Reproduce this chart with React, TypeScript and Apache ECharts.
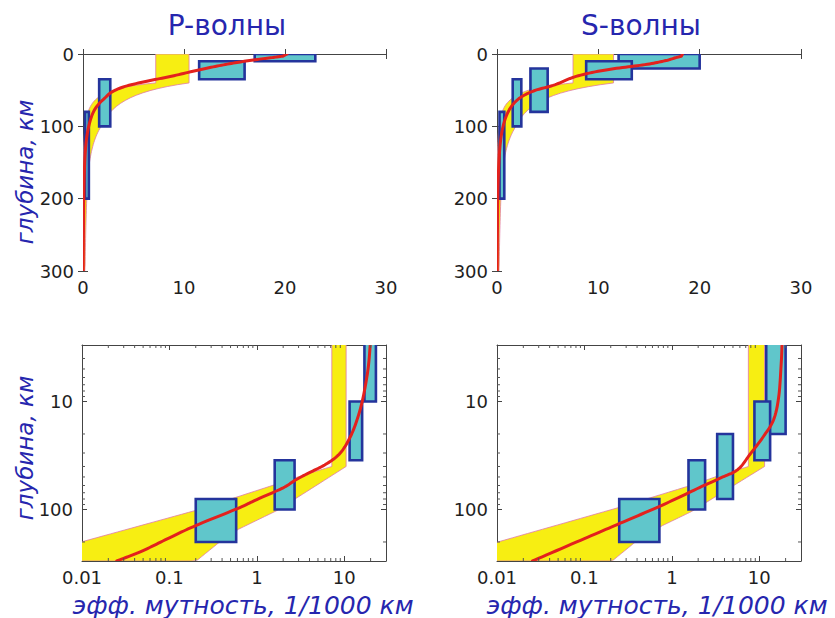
import React, { useEffect, useRef } from 'react';
import * as echarts from 'echarts';

// ---------- axis ticks ----------
const linXTicks = [0, 10, 20, 30];
const linDepthTicks = [0, 100, 200, 300];
const logXTicks = [0.01, 0.1, 1, 10];
const logDepthTicks = [10, 100];
const logXMinor = [0.02, 0.03, 0.04, 0.05, 0.06, 0.07, 0.08, 0.09, 0.2, 0.3, 0.4, 0.5, 0.6, 0.7, 0.8, 0.9, 2, 3, 4, 5, 6, 7, 8, 9, 20];
const logDepthMinor = [4, 5, 6, 7, 8, 9, 20, 30, 40, 50, 60, 70, 80, 90, 200];

// ---------- P waves ----------
// boxes: [turbidity min, turbidity max, depth top, depth bottom]
const pBoxes = [
  [17, 23, 0, 10],
  [11.5, 16, 10, 35],
  [1.6, 2.7, 35, 100],
  [0.2, 0.58, 80, 200],
];
// model curve: [turbidity, depth]
const pModel = [
  [20.2, 0], [19.8, 3], [18.7, 5], [16.5, 9], [14.3, 14], [11.8, 21], [9.0, 30],
  [6.2, 38], [3.7, 47], [2.7, 54], [2.0, 63], [1.0, 81], [0.6, 98], [0.2, 141],
  [0.1, 183], [0.05, 240], [0.025, 300],
];
// uncertainty band edges: [turbidity, depth]
const pBandLeft = [[7.2, 0], [7.2, 40], [3.7, 47], [1.6, 59], [0.2, 102], [0.01, 199], [0.0015, 300]];
const pBandRight = [[0.18, 300], [0.21, 293], [0.37, 202], [0.62, 152], [1.67, 103], [10.5, 40], [10.5, 0]];

// ---------- S waves ----------
const sBoxes = [
  [12, 20, 0, 20],
  [8.8, 13.3, 10, 35],
  [3.3, 5, 20, 80],
  [1.55, 2.4, 35, 100],
  [0.25, 0.72, 80, 200],
];
const sModel = [
  [18.3, 0], [18.2, 3], [17.8, 4.5], [16.7, 9], [14.6, 14.7], [11.2, 21], [7.8, 31],
  [5.7, 42.6], [3.67, 50.8], [2.07, 62.7], [0.78, 91], [0.257, 134], [0.1, 186], [0.0255, 300],
];
const sBandLeft = [[7.5, 0], [7.5, 40], [3.36, 49], [1.66, 59.7], [0.246, 96], [0.01, 201], [0.0015, 300]];
const sBandRight = [[0.2, 300], [0.215, 293], [0.38, 201], [0.78, 141], [1.66, 105], [11.5, 40], [11.5, 0]];

const titles = ['P-волны', 'S-волны'];
const depthName = 'глубина, км';
const turbName = 'эфф. мутность, 1/1000 км';

const FONT = 'DejaVu Sans';
const YELLOW = '#f7ee12';
const BAND_EDGE = '#e07aa8';
const BOX_FILL = '#60c6cb';
const BOX_EDGE = '#24349c';
const RED = '#e3211d';
const BLUE_TEXT = '#2626ae';

const grids = [
  { left: 83, top: 54, width: 303, height: 217 },
  { left: 497, top: 54, width: 304, height: 217 },
  { left: 82, top: 345, width: 304, height: 216 },
  { left: 497, top: 345, width: 304, height: 216 },
];

const logFmt = (v: number) => {
  const l = Math.log10(v);
  const e = Math.round(l);
  if (Math.abs(l - e) > 1e-6) return '';
  return e < 0 ? Math.pow(10, e).toFixed(-e) : String(Math.round(Math.pow(10, e)));
};

// Geometry helpers: band edges are straight segments in log-log space,
// so they are traced as such (curves on the linear panels).
const positive = (p: number[]) => p[0] > 0 && p[1] > 0;
function traceLogLog(pts: number[][], steps: number) {
  const out: number[][] = [];
  for (let k = 0; k < pts.length; k++) {
    const a = pts[k];
    out.push(a);
    if (k === pts.length - 1) break;
    const b = pts[k + 1];
    if (positive(a) && positive(b)) {
      const ax = Math.log10(a[0]), ay = Math.log10(a[1]);
      const bx = Math.log10(b[0]), by = Math.log10(b[1]);
      for (let s = 1; s < steps; s++) {
        const t = s / steps;
        out.push([Math.pow(10, ax + (bx - ax) * t), Math.pow(10, ay + (by - ay) * t)]);
      }
    }
  }
  return out;
}
// Smooth curve (Catmull-Rom in log-log space) through the model points.
function smoothLogLog(pts: number[][], steps: number) {
  const head = pts.filter((p) => !positive(p));
  const body = pts.filter(positive).map((p) => [Math.log10(p[0]), Math.log10(p[1])]);
  const out: number[][] = head.slice();
  for (let i = 0; i < body.length - 1; i++) {
    const p0 = body[i - 1] || body[i];
    const p1 = body[i];
    const p2 = body[i + 1];
    const p3 = body[i + 2] || p2;
    for (let s = 0; s < steps; s++) {
      const t = s / steps, t2 = t * t, t3 = t2 * t;
      const f = (a: number, b: number, c: number, d: number) =>
        0.5 * (2 * b + (-a + c) * t + (2 * a - 5 * b + 4 * c - d) * t2 + (-a + 3 * b - 3 * c + d) * t3);
      out.push([Math.pow(10, f(p0[0], p1[0], p2[0], p3[0])), Math.pow(10, f(p0[1], p1[1], p2[1], p3[1]))]);
    }
  }
  const last = body[body.length - 1];
  out.push([Math.pow(10, last[0]), Math.pow(10, last[1])]);
  return out;
}

function buildOption() {
  const xAxis: any[] = [];
  const yAxis: any[] = [];
  const series: any[] = [];
  const labelStyle = { fontFamily: FONT, fontSize: 18, color: '#1e1e1e' };
  const lineStyle = { color: '#444', width: 1 };
  const tick = { show: true, inside: true, length: 5, lineStyle: { color: '#444' } };

  grids.forEach((g, i) => {
    const isLog = i >= 2;
    const xBase: any = isLog
      ? { type: 'log', logBase: 10, min: logXTicks[0], max: 30 }
      : { type: 'value', min: linXTicks[0], max: linXTicks[linXTicks.length - 1], interval: 10 };
    const yBase: any = isLog
      ? { type: 'log', logBase: 10, min: 3, max: 300, inverse: true }
      : { type: 'value', min: linDepthTicks[0], max: linDepthTicks[linDepthTicks.length - 1], interval: 100, inverse: true };
    const fmt = isLog ? logFmt : (v: number) => String(v);
    xAxis.push({
      ...xBase, gridIndex: i, position: 'bottom',
      axisLine: { show: true, lineStyle }, axisTick: tick, splitLine: { show: false },
      axisLabel: { ...labelStyle, margin: 7, formatter: fmt, showMinLabel: true, showMaxLabel: true },
    });
    xAxis.push({
      ...xBase, gridIndex: i, position: 'top',
      axisLine: { show: true, lineStyle }, axisTick: tick, splitLine: { show: false },
      axisLabel: { show: false },
    });
    yAxis.push({
      ...yBase, gridIndex: i, position: 'left',
      axisLine: { show: true, lineStyle }, axisTick: tick, splitLine: { show: false },
      axisLabel: { ...labelStyle, margin: 9, formatter: fmt, showMinLabel: true, showMaxLabel: true },
    });
    yAxis.push({
      ...yBase, gridIndex: i, position: 'right',
      axisLine: { show: true, lineStyle }, axisTick: tick, splitLine: { show: false },
      axisLabel: { show: false },
    });

    const xi = i * 2;
    const yi = i * 2;
    const isS = i % 2 === 1;
    const boxes = isS ? sBoxes : pBoxes;
    const model = isS ? sModel : pModel;
    const band = [...(isS ? sBandLeft : pBandLeft), ...(isS ? sBandRight : pBandRight)];
    const cd = (d: number) => (isLog ? Math.max(d, 1) : d);

    // uncertainty band
    series.push({
      type: 'custom', xAxisIndex: xi, yAxisIndex: yi, clip: true, z: 1, silent: true,
      data: band.map(([x, d]) => [x, cd(d)]),
      encode: { x: 0, y: 1 },
      renderItem: (params: any, api: any) => {
        if (params.dataIndex !== 0) return null;
        const points = traceLogLog(band, 16).map(([x, d]) => api.coord([x, cd(d)]));
        return {
          type: 'polygon', shape: { points },
          style: { fill: YELLOW, stroke: BAND_EDGE, lineWidth: 0.8 },
        };
      },
    });

    // measurement boxes
    series.push({
      type: 'custom', xAxisIndex: xi, yAxisIndex: yi, clip: true, z: 2, silent: true,
      data: boxes.map(([a, b, c, d]) => [a, b, cd(c), cd(d)]),
      encode: { x: [0, 1], y: [2, 3] },
      renderItem: (params: any, api: any) => {
        const p0 = api.coord([api.value(0), api.value(2)]);
        const p1 = api.coord([api.value(1), api.value(3)]);
        const x = Math.min(p0[0], p1[0]);
        const y = Math.min(p0[1], p1[1]);
        return {
          type: 'rect',
          shape: { x, y, width: Math.abs(p1[0] - p0[0]), height: Math.abs(p1[1] - p0[1]) },
          style: { fill: BOX_FILL, stroke: BOX_EDGE, lineWidth: 2.6 },
        };
      },
    });

    // model curve
    const curvePts = model.filter(([, d]) => !isLog || d > 0);
    series.push({
      type: 'custom', xAxisIndex: xi, yAxisIndex: yi, clip: true, z: 3, silent: true,
      data: curvePts,
      encode: { x: 0, y: 1 },
      renderItem: (params: any, api: any) => {
        if (params.dataIndex !== 0) return null;
        const points = smoothLogLog(curvePts, 12).map(([x, d]) => api.coord([x, d]));
        return {
          type: 'polyline', shape: { points },
          style: { fill: 'none', stroke: RED, lineWidth: 3, lineJoin: 'round', lineCap: 'round' },
        };
      },
    });

    // minor log ticks
    if (isLog) {
      series.push({
        type: 'custom', xAxisIndex: xi, yAxisIndex: yi, z: 4, silent: true, clip: false,
        data: [...logXMinor.map((v) => [v, 10, 0]), ...logDepthMinor.map((v) => [1, v, 1])],
        encode: { x: 0, y: 1 },
        renderItem: (params: any, api: any) => {
          const cs = params.coordSys;
          const p = api.coord([api.value(0), api.value(1)]);
          const L = 3;
          const st = { stroke: '#555', lineWidth: 1 };
          if (api.value(2) === 0) {
            return {
              type: 'group', children: [
                { type: 'line', shape: { x1: p[0], y1: cs.y + cs.height, x2: p[0], y2: cs.y + cs.height - L }, style: st },
                { type: 'line', shape: { x1: p[0], y1: cs.y, x2: p[0], y2: cs.y + L }, style: st },
              ],
            };
          }
          return {
            type: 'group', children: [
              { type: 'line', shape: { x1: cs.x, y1: p[1], x2: cs.x + L, y2: p[1] }, style: st },
              { type: 'line', shape: { x1: cs.x + cs.width, y1: p[1], x2: cs.x + cs.width - L, y2: p[1] }, style: st },
            ],
          };
        },
      });
    }
  });

  const txt = (text: string, x: number, y: number, size: number, italic: boolean, rotation = 0) => ({
    type: 'text', x, y, rotation, silent: true,
    style: {
      text, fontFamily: FONT, fontSize: size, fontStyle: italic ? 'italic' : 'normal',
      fill: BLUE_TEXT, align: 'center', verticalAlign: 'middle',
    },
  });

  return {
    animation: false,
    backgroundColor: '#ffffff',
    grid: grids.map((g) => ({ ...g, show: false, containLabel: false })),
    xAxis, yAxis, series,
    graphic: [
      txt(titles[0], 227, 25, 28, false),
      txt(titles[1], 641, 25, 28, false),
      txt(depthName, 25, 172, 23, true, Math.PI / 2),
      txt(depthName, 25, 448, 23, true, Math.PI / 2),
      txt(turbName, 243, 605, 25, true),
      txt(turbName, 657, 605, 25, true),
    ],
  };
}

export default function App() {
  const ref = useRef<HTMLDivElement>(null);
  useEffect(() => {
    if (!ref.current) return;
    const chart = echarts.init(ref.current, undefined, { renderer: 'svg' });
    chart.setOption(buildOption() as any);
    return () => chart.dispose();
  }, []);
  return (
    <div
      ref={ref}
      style={{ position: 'fixed', left: 0, top: 0, width: 835, height: 618, background: '#fff' }}
    />
  );
}
